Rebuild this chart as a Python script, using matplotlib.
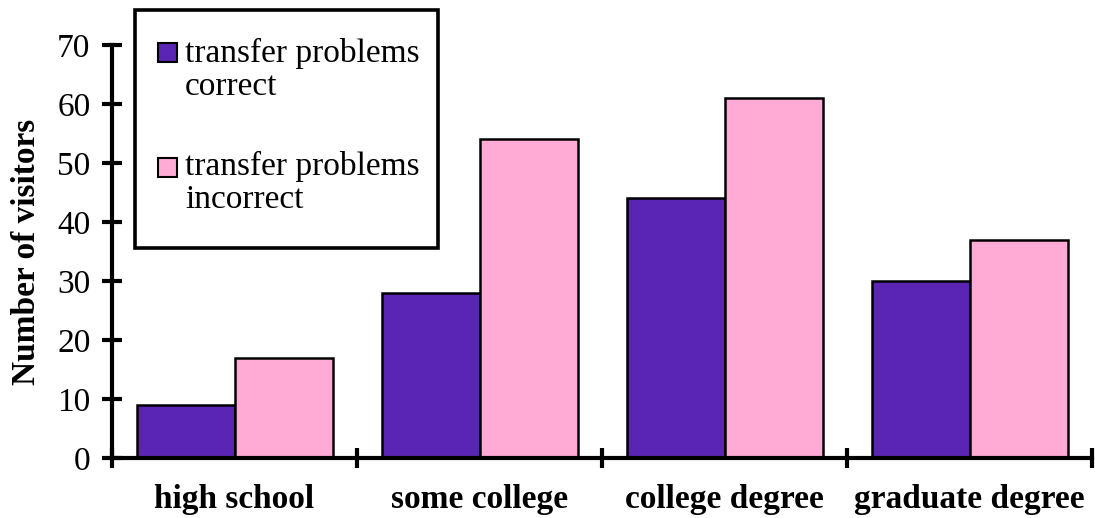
import matplotlib
matplotlib.use("Agg")
import matplotlib.pyplot as plt
import numpy as np
from matplotlib.patches import Rectangle

categories = ["high school", "some college", "college degree", "graduate degree"]
correct = [9, 28, 44, 30]
incorrect = [17, 54, 61, 37]
series_labels = [["transfer problems", "correct"], ["transfer problems", "incorrect"]]
yticks = [0, 10, 20, 30, 40, 50, 60, 70]

purple = "#5A24B4"
pink = "#FFABD5"

plt.rcParams["font.family"] = ["Liberation Serif", "DejaVu Serif"]

W, H = 1095, 518
fig = plt.figure(figsize=(W / 100, H / 100), dpi=100)
left, right, bottom, top = 112 / W, 1092 / W, 1 - 458 / H, 1 - 45 / H
ax = fig.add_axes([left, bottom, right - left, top - bottom])

x = np.arange(len(categories))
bw = 0.4
ax.bar(x + 0.1, correct, width=bw, align="edge", color=purple, edgecolor="black", linewidth=1.8, zorder=2)
ax.bar(x + 0.5, incorrect, width=bw, align="edge", color=pink, edgecolor="black", linewidth=1.8, zorder=2)

ax.set_xlim(0, len(categories))
ax.set_ylim(0, 70)
for s in ["top", "right"]:
    ax.spines[s].set_visible(False)
for s in ["left", "bottom"]:
    ax.spines[s].set_linewidth(3)
    ax.spines[s].set_zorder(3)

ax.set_yticks(yticks)
ax.set_yticklabels([str(v) for v in yticks], fontsize=24)
ax.tick_params(axis="y", direction="inout", length=15, width=3, pad=8)

ax.set_xticks(np.arange(len(categories) + 1))
ax.set_xticklabels([])
ax.tick_params(axis="x", which="major", direction="inout", length=15, width=3)
ax.set_xticks(x + 0.5, minor=True)
ax.set_xticklabels(categories, minor=True, fontsize=24, fontweight="bold")
ax.tick_params(axis="x", which="minor", length=0, pad=19)

fig.text(27 / W, 1 - 252 / H, "Number of visitors", rotation=90, ha="center", va="center",
         fontsize=24, fontweight="bold")

# legend box
fig.add_artist(Rectangle((135 / W, 1 - 248 / H), (438 - 135) / W, (248 - 10) / H,
                         transform=fig.transFigure, facecolor="white", edgecolor="black",
                         linewidth=2.6, zorder=5))
entries = [(purple, 43, 62), (pink, 158, 175)]
for (col, ytop, base), lines in zip(entries, series_labels):
    fig.add_artist(Rectangle((158 / W, 1 - (ytop + 19) / H), 19 / W, 19 / H,
                             transform=fig.transFigure, facecolor=col, edgecolor="black",
                             linewidth=1.5, zorder=6))
    for i, ln in enumerate(lines):
        fig.text(185 / W, 1 - (base + 33 * i) / H, ln, fontsize=24, ha="left", va="baseline", zorder=7)

fig.savefig("out.png", dpi=100)
